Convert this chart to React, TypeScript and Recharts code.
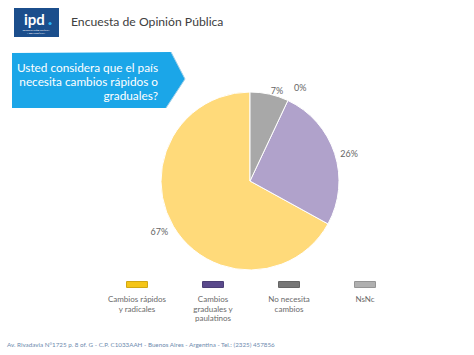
import { PieChart, Pie, Cell, Legend } from 'recharts'

const categories = ['Cambios rápidos y radicales', 'Cambios graduales y paulatinos', 'No necesita cambios', 'NsNc']
const legendLines = [
  ['Cambios rápidos', 'y radicales'],
  ['Cambios', 'graduales y', 'paulatinos'],
  ['No necesita', 'cambios'],
  ['NsNc'],
]
const values = [67, 26, 7, 0]
const sliceColors = ['#FFDA7A', '#B0A2CB', '#A8A8A8', '#C8C8C8']
const legendColors = ['#F5C518', '#5A4A8C', '#777777', '#B0B0B0']

const data = categories.map((name, i) => ({ name, value: values[i], fill: sliceColors[i] }))

const FONT = 'Lato, "Open Sans", sans-serif'
const RAD = Math.PI / 180

function renderLabel(props: any) {
  const { cx, cy, midAngle, outerRadius, value, index } = props
  const r = outerRadius + 6
  const cos = Math.cos(-midAngle * RAD)
  const sin = Math.sin(-midAngle * RAD)
  let x = cx + r * cos
  const y = cy + r * sin
  // the empty slice sits on the 7% one, nudge it aside
  if (value === 0) x += 44
  return (
    <text
      key={`lbl-${index}`}
      x={x}
      y={y + 3}
      fill="#666"
      fontSize={9}
      fontFamily={FONT}
      textAnchor={cos >= 0 || value === 0 ? 'start' : 'end'}
      dominantBaseline="middle"
    >
      {`${value}%`}
    </text>
  )
}

function LegendContent() {
  return (
    <div style={{ display: 'flex', fontFamily: FONT }}>
      {legendLines.map((lines, i) => (
        <div key={i} style={{ width: 76, display: 'flex', flexDirection: 'column', alignItems: 'center' }}>
          <div
            style={{
              width: 20,
              height: 5,
              background: legendColors[i],
              border: '1px solid rgba(0,0,0,0.15)',
              borderRadius: 1,
              marginBottom: 7,
            }}
          />
          {lines.map((l, j) => (
            <div key={j} style={{ fontSize: 8, lineHeight: '9.5px', color: '#6a6a6a' }}>
              {l}
            </div>
          ))}
        </div>
      ))}
    </div>
  )
}

export default function App() {
  return (
    <div style={{ position: 'absolute', left: 0, top: 0, width: 474, height: 355, background: '#fff', overflow: 'hidden' }}>
      {/* header */}
      <svg width={474} height={120} style={{ position: 'absolute', left: 0, top: 0 }}>
        <rect x={14} y={8} width={45} height={29} fill="#1B4E8C" />
        <text x={24} y={25} fill="#fff" fontSize={15} fontWeight={700} fontFamily={FONT}>ipd</text>
        <circle cx={50} cy={23.5} r={1.6} fill="#29B6F6" />
        <text x={36} y={31} fill="#fff" fontSize={2.2} textAnchor="middle" fontFamily={FONT}>INVESTIGACIÓN POLÍTICA</text>
        <text x={36} y={33.5} fill="#fff" fontSize={2.2} textAnchor="middle" fontFamily={FONT}>Y DEMOGRÁFICA</text>
        <text x={71} y={26} fill="#404040" fontSize={12.2} fontFamily={FONT}>Encuesta de Opinión Pública</text>

        <polygon points="12,53 171,52 185,79 166,108 12,108" fill="#1BA6E8" />
        <polyline points="171,52 185,79 166,108" fill="none" stroke="#9FCFE8" strokeWidth={1} />
        <text fill="#fff" fontSize={11.8} fontFamily={FONT} textAnchor="end">
          <tspan x={158} y={72}>Usted considera que el país</tspan>
          <tspan x={158} y={86}>necesita cambios rápidos o</tspan>
          <tspan x={158} y={100}>graduales?</tspan>
        </text>
      </svg>

      <PieChart width={474} height={355} margin={{ top: 0, right: 0, bottom: 0, left: 0 }} style={{ position: 'absolute', left: 0, top: 0 }}>
        <Pie
          data={data}
          dataKey="value"
          nameKey="name"
          cx={250}
          cy={181}
          outerRadius={89}
          startAngle={90}
          endAngle={450}
          stroke="#fff"
          strokeWidth={1}
          label={renderLabel}
          labelLine={false}
          isAnimationActive={false}
        >
          {data.map((d, i) => (
            <Cell key={`cell-${i}`} fill={d.fill} />
          ))}
        </Pie>
        <Legend
          content={<LegendContent />}
          wrapperStyle={{ position: 'absolute', left: 99, top: 281, width: 310 }}
        />
      </PieChart>

      <div
        style={{
          position: 'absolute',
          left: 7,
          top: 341,
          fontSize: 6.25,
          color: '#6D8AAE',
          fontFamily: FONT,
          whiteSpace: 'nowrap',
        }}
      >
        Av. Rivadavia N°1725 p. 8 of. G - C.P. C1033AAH - Buenos Aires - Argentina - Tel.: (2325) 457856
      </div>
    </div>
  )
}
